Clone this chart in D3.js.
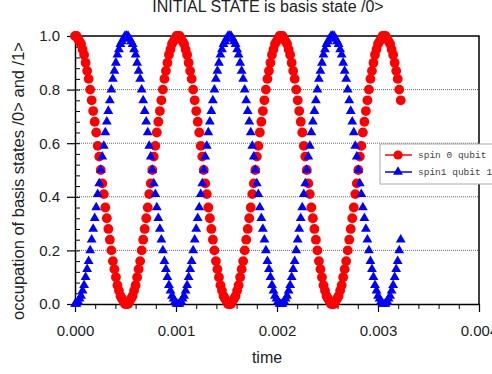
<!DOCTYPE html>
<html>
<head>
<meta charset="utf-8">
<script src="https://cdn.jsdelivr.net/npm/d3@7"></script>
<style>
  html, body { margin: 0; padding: 0; background: #fff; overflow: hidden; }
  svg { display: block; font-family: "Liberation Sans", Arial, sans-serif; }
</style>
</head>
<body>
<svg id="chart" width="492" height="374"></svg>
<script>
// sampling step of the time axis (s)
const timeStep = 1.5e-5;

// occupation of /0> (red circles)
const spin0 = [
  1.00, 1.00, 0.99, 0.98, 0.97, 0.95, 0.93, 0.90, 0.87, 0.84, 0.80, 0.76, 0.72, 0.68, 0.64, 0.59, 0.55,
  0.50, 0.45, 0.41, 0.36, 0.32, 0.28, 0.24, 0.20, 0.16, 0.13, 0.10, 0.07, 0.05, 0.03, 0.02, 0.01, 0.00,
  0.00, 0.00, 0.01, 0.02, 0.03, 0.05, 0.07, 0.10, 0.13, 0.16, 0.20, 0.24, 0.28, 0.32, 0.36, 0.41, 0.45,
  0.50, 0.55, 0.59, 0.64, 0.68, 0.72, 0.76, 0.80, 0.84, 0.87, 0.90, 0.93, 0.95, 0.97, 0.98, 0.99, 1.00,
  1.00, 1.00, 0.99, 0.98, 0.97, 0.95, 0.93, 0.90, 0.87, 0.84, 0.80, 0.76, 0.72, 0.68, 0.64, 0.59, 0.55,
  0.50, 0.45, 0.41, 0.36, 0.32, 0.28, 0.24, 0.20, 0.16, 0.13, 0.10, 0.07, 0.05, 0.03, 0.02, 0.01, 0.00,
  0.00, 0.00, 0.01, 0.02, 0.03, 0.05, 0.07, 0.10, 0.13, 0.16, 0.20, 0.24, 0.28, 0.32, 0.36, 0.41, 0.45,
  0.50, 0.55, 0.59, 0.64, 0.68, 0.72, 0.76, 0.80, 0.84, 0.87, 0.90, 0.93, 0.95, 0.97, 0.98, 0.99, 1.00,
  1.00, 1.00, 0.99, 0.98, 0.97, 0.95, 0.93, 0.90, 0.87, 0.84, 0.80, 0.76, 0.72, 0.68, 0.64, 0.59, 0.55,
  0.50, 0.45, 0.41, 0.36, 0.32, 0.28, 0.24, 0.20, 0.16, 0.13, 0.10, 0.07, 0.05, 0.03, 0.02, 0.01, 0.00,
  0.00, 0.00, 0.01, 0.02, 0.03, 0.05, 0.07, 0.10, 0.13, 0.16, 0.20, 0.24, 0.28, 0.32, 0.36, 0.41, 0.45,
  0.50, 0.55, 0.59, 0.64, 0.68, 0.72, 0.76, 0.80, 0.84, 0.87, 0.90, 0.93, 0.95, 0.97, 0.98, 0.99, 1.00,
  1.00, 1.00, 0.99, 0.98, 0.97, 0.95, 0.93, 0.90, 0.87, 0.84, 0.80, 0.76
];

// occupation of /1> (blue triangles)
const spin1 = [
  0.00, 0.00, 0.01, 0.02, 0.03, 0.05, 0.07, 0.10, 0.13, 0.16, 0.20, 0.24, 0.28, 0.32, 0.36, 0.41, 0.45,
  0.50, 0.55, 0.59, 0.64, 0.68, 0.72, 0.76, 0.80, 0.84, 0.87, 0.90, 0.93, 0.95, 0.97, 0.98, 0.99, 1.00,
  1.00, 1.00, 0.99, 0.98, 0.97, 0.95, 0.93, 0.90, 0.87, 0.84, 0.80, 0.76, 0.72, 0.68, 0.64, 0.59, 0.55,
  0.50, 0.45, 0.41, 0.36, 0.32, 0.28, 0.24, 0.20, 0.16, 0.13, 0.10, 0.07, 0.05, 0.03, 0.02, 0.01, 0.00,
  0.00, 0.00, 0.01, 0.02, 0.03, 0.05, 0.07, 0.10, 0.13, 0.16, 0.20, 0.24, 0.28, 0.32, 0.36, 0.41, 0.45,
  0.50, 0.55, 0.59, 0.64, 0.68, 0.72, 0.76, 0.80, 0.84, 0.87, 0.90, 0.93, 0.95, 0.97, 0.98, 0.99, 1.00,
  1.00, 1.00, 0.99, 0.98, 0.97, 0.95, 0.93, 0.90, 0.87, 0.84, 0.80, 0.76, 0.72, 0.68, 0.64, 0.59, 0.55,
  0.50, 0.45, 0.41, 0.36, 0.32, 0.28, 0.24, 0.20, 0.16, 0.13, 0.10, 0.07, 0.05, 0.03, 0.02, 0.01, 0.00,
  0.00, 0.00, 0.01, 0.02, 0.03, 0.05, 0.07, 0.10, 0.13, 0.16, 0.20, 0.24, 0.28, 0.32, 0.36, 0.41, 0.45,
  0.50, 0.55, 0.59, 0.64, 0.68, 0.72, 0.76, 0.80, 0.84, 0.87, 0.90, 0.93, 0.95, 0.97, 0.98, 0.99, 1.00,
  1.00, 1.00, 0.99, 0.98, 0.97, 0.95, 0.93, 0.90, 0.87, 0.84, 0.80, 0.76, 0.72, 0.68, 0.64, 0.59, 0.55,
  0.50, 0.45, 0.41, 0.36, 0.32, 0.28, 0.24, 0.20, 0.16, 0.13, 0.10, 0.07, 0.05, 0.03, 0.02, 0.01, 0.00,
  0.00, 0.00, 0.01, 0.02, 0.03, 0.05, 0.07, 0.10, 0.13, 0.16, 0.20, 0.24
];

const xTicks = [0, 0.001, 0.002, 0.003, 0.004];
const yTicks = [0, 0.2, 0.4, 0.6, 0.8, 1.0];
const legendLabels = ['spin 0 qubit 0', 'spin1 qubit 1'];

const svg = d3.select('#chart');
const plotL = 75, plotR = 479, plotT = 36, plotB = 304;

const x = d3.scaleLinear().domain([0, 0.004]).range([plotL, plotR]);
const y = d3.scaleLinear().domain([0, 1]).range([plotB, plotT]);

// dotted grid lines
svg.append('g')
  .selectAll('line')
  .data(yTicks.filter(d => d > 0 && d < 1))
  .join('line')
  .attr('x1', plotL).attr('x2', plotR)
  .attr('y1', d => y(d)).attr('y2', d => y(d))
  .attr('stroke', '#666')
  .attr('stroke-width', 1)
  .attr('stroke-dasharray', '1,1');

// frame (top + right)
svg.append('path')
  .attr('d', `M${plotL},${plotT}H${plotR}V${plotB}`)
  .attr('fill', 'none')
  .attr('stroke', '#000')
  .attr('stroke-width', 1.5);

// x axis
const xMinor = d3.range(0, 0.0040001, 0.0002);
svg.append('g')
  .attr('transform', `translate(0,${plotB})`)
  .call(d3.axisBottom(x).tickValues(xMinor).tickSize(5).tickSizeOuter(0).tickFormat(''))
  .call(g => g.select('.domain').remove());
const xAxis = svg.append('g')
  .attr('transform', `translate(0,${plotB})`)
  .call(d3.axisBottom(x).tickValues(xTicks).tickSize(8).tickSizeOuter(0).tickFormat(d3.format('.3f')).tickPadding(13));
xAxis.select('.domain').attr('stroke-width', 1.5);
xAxis.selectAll('.tick line').attr('stroke-width', 1.2);
xAxis.selectAll('text').attr('font-size', 15).attr('fill', '#222')
  .attr('font-family', '"Liberation Sans", Arial, sans-serif');

// y axis
const yMinor = d3.range(0, 1.0001, 0.04);
svg.append('g')
  .attr('transform', `translate(${plotL},0)`)
  .call(d3.axisRight(y).tickValues(yMinor).tickSize(5).tickSizeOuter(0).tickFormat(''))
  .call(g => g.select('.domain').remove());
const yAxis = svg.append('g')
  .attr('transform', `translate(${plotL},0)`)
  .call(d3.axisLeft(y).tickValues(yTicks).tickSize(8).tickSizeOuter(0).tickFormat(d3.format('.1f')).tickPadding(7));
yAxis.select('.domain').attr('stroke-width', 1.5);
yAxis.selectAll('.tick line').attr('stroke-width', 1.2);
yAxis.selectAll('text').attr('font-size', 15).attr('fill', '#222')
  .attr('font-family', '"Liberation Sans", Arial, sans-serif');

// series
const pts0 = spin0.map((v, i) => ({ t: i * timeStep, v }));
const pts1 = spin1.map((v, i) => ({ t: i * timeStep, v }));

svg.append('g')
  .selectAll('circle')
  .data(pts0)
  .join('circle')
  .attr('cx', d => x(d.t))
  .attr('cy', d => y(d.v))
  .attr('r', 4.9)
  .attr('fill', '#f00');

const tri = d3.symbol().type(d3.symbolTriangle).size(42);
svg.append('g')
  .selectAll('path')
  .data(pts1)
  .join('path')
  .attr('d', tri)
  .attr('transform', d => `translate(${x(d.t)},${y(d.v)})`)
  .attr('fill', '#00f');

// titles
svg.append('text')
  .attr('x', 268).attr('y', 12)
  .attr('text-anchor', 'middle')
  .attr('font-size', 16).attr('fill', '#222')
  .text('INITIAL STATE is basis state /0>');

svg.append('text')
  .attr('x', 267).attr('y', 363)
  .attr('text-anchor', 'middle')
  .attr('font-size', 16).attr('fill', '#222')
  .text('time');

svg.append('text')
  .attr('transform', 'translate(24,181) rotate(-90)')
  .attr('text-anchor', 'middle')
  .attr('font-size', 16.5).attr('fill', '#222')
  .text('occupation of basis states /0> and /1>');

// legend
const legend = svg.append('g').attr('transform', 'translate(380,144)');
legend.append('rect')
  .attr('width', 130).attr('height', 40)
  .attr('fill', '#fff')
  .attr('stroke', '#aaa')
  .attr('stroke-width', 1);

const rows = legend.selectAll('g.row')
  .data(legendLabels)
  .join('g')
  .attr('class', 'row')
  .attr('transform', (d, i) => `translate(0,${11 + i * 17})`);

rows.append('line')
  .attr('x1', 5).attr('x2', 32)
  .attr('stroke', (d, i) => i === 0 ? '#f00' : '#00f')
  .attr('stroke-width', 1.5);

rows.filter((d, i) => i === 0).append('circle')
  .attr('cx', 18).attr('r', 4.6).attr('fill', '#f00');
rows.filter((d, i) => i === 1).append('path')
  .attr('d', tri).attr('transform', 'translate(18,0)').attr('fill', '#00f');

rows.append('text')
  .attr('x', 38).attr('y', 3)
  .attr('font-family', '"Liberation Mono", "DejaVu Sans Mono", monospace')
  .attr('font-size', 9.5)
  .attr('fill', '#444')
  .text(d => d);
</script>
</body>
</html>
